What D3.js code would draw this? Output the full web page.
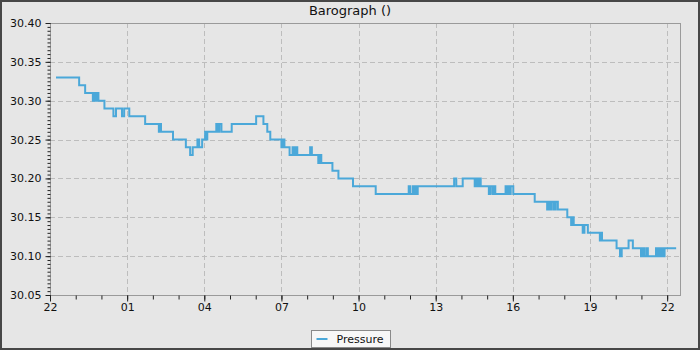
<!DOCTYPE html>
<html>
<head>
<meta charset="utf-8">
<script src="https://cdn.jsdelivr.net/npm/d3@7"></script>
<style>
  body { margin: 0; background: #fff; }
  svg { display: block; font-family: "DejaVu Sans", sans-serif; }
</style>
</head>
<body>
<div id="chart"></div>
<script>

// readings, time of change (HH:MM, starts 22:00 and runs past midnight)
var times = [
  "22:14","23:08","23:22","23:40","23:44","23:47","23:50","23:53","00:07","00:28",
  "00:34","00:48","00:53","01:05","01:42","02:14","02:17","02:19","02:47","03:17",
  "03:27","03:33","03:44","03:48","03:55","04:02","04:05","04:07","04:28","04:31",
  "04:35","04:40","05:04","06:01","06:18","06:27","06:34","07:00","07:03","07:07",
  "07:19","07:26","07:29","07:33","07:37","08:07","08:11","08:26","08:30","08:33",
  "08:59","09:13","09:47","10:40","11:57","12:00","12:06","12:10","12:13","12:15",
  "12:18","13:43","13:48","14:03","14:31","14:34","14:38","14:41","14:45","15:04",
  "15:08","15:13","15:17","15:19","15:43","15:47","15:50","15:54","15:55","16:01",
  "16:51","17:20","17:24","17:27","17:31","17:36","17:40","17:45","18:07","18:16",
  "18:20","18:22","18:43","18:47","18:55","19:23","19:25","19:28","20:02","20:10",
  "20:14","20:30","20:40","20:59","21:02","21:06","21:11","21:15","21:34","21:37",
  "21:41","21:44","21:48","21:51","21:54","22:21"
];
var pressure = [
  30.33,30.32,30.31,30.30,30.31,30.30,30.31,30.30,30.29,30.28,
  30.29,30.28,30.29,30.28,30.27,30.26,30.27,30.26,30.25,30.24,
  30.23,30.24,30.25,30.24,30.25,30.26,30.25,30.26,30.27,30.26,
  30.27,30.26,30.27,30.28,30.27,30.26,30.25,30.24,30.25,30.24,
  30.23,30.24,30.23,30.24,30.23,30.24,30.23,30.22,30.23,30.22,
  30.21,30.20,30.19,30.18,30.19,30.18,30.19,30.18,30.19,30.18,
  30.19,30.20,30.19,30.20,30.19,30.20,30.19,30.20,30.19,30.18,
  30.19,30.18,30.19,30.18,30.19,30.18,30.19,30.18,30.19,30.18,
  30.17,30.16,30.17,30.16,30.17,30.16,30.17,30.16,30.15,30.14,
  30.15,30.14,30.13,30.14,30.13,30.12,30.13,30.12,30.11,30.10,
  30.11,30.12,30.11,30.10,30.11,30.10,30.11,30.10,30.11,30.10,
  30.11,30.10,30.11,30.10,30.11,30.11
];
var yTicks = [30.05, 30.10, 30.15, 30.20, 30.25, 30.30, 30.35, 30.40];
var seriesName = "Pressure";
var chartTitle = "Barograph ()";

var width = 700, height = 350;
var margin = {top: 23, right: 20, bottom: 55, left: 50};
var lineColor = "#4ba8d9";

// build dates, roll over to the next day when the clock goes backwards
var start = new Date(2024, 0, 1, 22, 0);
var end = new Date(2024, 0, 2, 22, 30);
var parse = d3.timeParse("%H:%M");
var dayOffset = 0, prev = null;
var data = times.map(function(t, i) {
    var p = parse(t);
    if (prev !== null && p < prev) dayOffset++;
    prev = p;
    var d = new Date(2024, 0, 1 + dayOffset, p.getHours(), p.getMinutes());
    return { date: d, value: pressure[i] };
});

var svg = d3.select("#chart").append("svg")
    .attr("width", width)
    .attr("height", height);

// background and outer frame
svg.append("rect")
    .attr("x", 1).attr("y", 1)
    .attr("width", width - 2).attr("height", height - 2)
    .attr("fill", "#e6e6e6")
    .attr("stroke", "#474747")
    .attr("stroke-width", 2);

var x = d3.scaleTime()
    .domain([start, end])
    .range([margin.left, width - margin.right]);

var y = d3.scaleLinear()
    .domain([30.05, 30.40])
    .range([height - margin.bottom, margin.top]);

var plotLeft = margin.left, plotRight = width - margin.right;
var plotTop = margin.top, plotBottom = height - margin.bottom;

var majorX = d3.timeHour.range(start, end, 3);
var minorX = d3.timeHour.range(start, end);
var minorY = d3.range(0, 71).map(function(i) { return Math.round((30.05 + i * 0.005) * 1000) / 1000; });

// grid
svg.append("g").selectAll("line")
    .data(yTicks.slice(1, -1))
    .enter().append("line")
    .attr("x1", plotLeft).attr("x2", plotRight)
    .attr("y1", function(d) { return Math.round(y(d)) + 0.5; })
    .attr("y2", function(d) { return Math.round(y(d)) + 0.5; })
    .attr("stroke", "#bdbdbd")
    .attr("stroke-dasharray", "5,3");

svg.append("g").selectAll("line")
    .data(majorX.slice(1))
    .enter().append("line")
    .attr("y1", plotTop).attr("y2", plotBottom)
    .attr("x1", function(d) { return Math.round(x(d)) + 0.5; })
    .attr("x2", function(d) { return Math.round(x(d)) + 0.5; })
    .attr("stroke", "#bdbdbd")
    .attr("stroke-dasharray", "5,3");

// plot frame
svg.append("rect")
    .attr("x", plotLeft + 0.5).attr("y", plotTop + 0.5)
    .attr("width", plotRight - plotLeft).attr("height", plotBottom - plotTop)
    .attr("fill", "none")
    .attr("stroke", "#9a9a9a");

// y axis
var yAxis = d3.axisLeft(y)
    .tickValues(yTicks)
    .tickFormat(d3.format(".2f"))
    .tickSize(5)
    .tickPadding(4);

var yMinor = svg.append("g")
    .attr("transform", "translate(" + (plotLeft + 0.5) + ",0)")
    .call(d3.axisLeft(y).tickValues(minorY).tickSize(3).tickFormat(""));
yMinor.select(".domain").remove();

var gy = svg.append("g")
    .attr("transform", "translate(" + (plotLeft + 0.5) + ",0)")
    .call(yAxis);
gy.select(".domain").remove();

// x axis
var xMinor = svg.append("g")
    .attr("transform", "translate(0," + (plotBottom + 0.5) + ")")
    .call(d3.axisBottom(x).tickValues(minorX).tickSize(4).tickFormat(""));
xMinor.select(".domain").remove();

var gx = svg.append("g")
    .attr("transform", "translate(0," + (plotBottom + 0.5) + ")")
    .call(d3.axisBottom(x).tickValues(majorX).tickFormat(d3.timeFormat("%H")).tickSize(6).tickPadding(2));
gx.select(".domain").remove();

svg.selectAll(".tick line").attr("stroke", "#222");
svg.selectAll(".tick text")
    .attr("font-size", 11)
    .attr("font-family", "DejaVu Sans, sans-serif")
    .attr("fill", "#111");

// pressure step line
var line = d3.line()
    .curve(d3.curveStepAfter)
    .x(function(d) { return x(d.date); })
    .y(function(d) { return y(d.value); });

svg.append("path")
    .datum(data)
    .attr("d", line)
    .attr("fill", "none")
    .attr("stroke", lineColor)
    .attr("stroke-width", 2);

// title
svg.append("text")
    .attr("x", width / 2)
    .attr("y", 15)
    .attr("text-anchor", "middle")
    .attr("font-size", 13)
    .attr("fill", "#111")
    .text(chartTitle);

// legend
var legend = svg.append("g").attr("transform", "translate(311.5,330.5)");
legend.append("rect")
    .attr("width", 79).attr("height", 17)
    .attr("fill", "#f7f7f7")
    .attr("stroke", "#8a8a8a");
legend.append("line")
    .attr("x1", 5).attr("x2", 16)
    .attr("y1", 8.5).attr("y2", 8.5)
    .attr("stroke", lineColor)
    .attr("stroke-width", 2);
legend.append("text")
    .attr("x", 25).attr("y", 12)
    .attr("font-size", 11)
    .attr("fill", "#111")
    .text(seriesName);

</script>
</body>
</html>
